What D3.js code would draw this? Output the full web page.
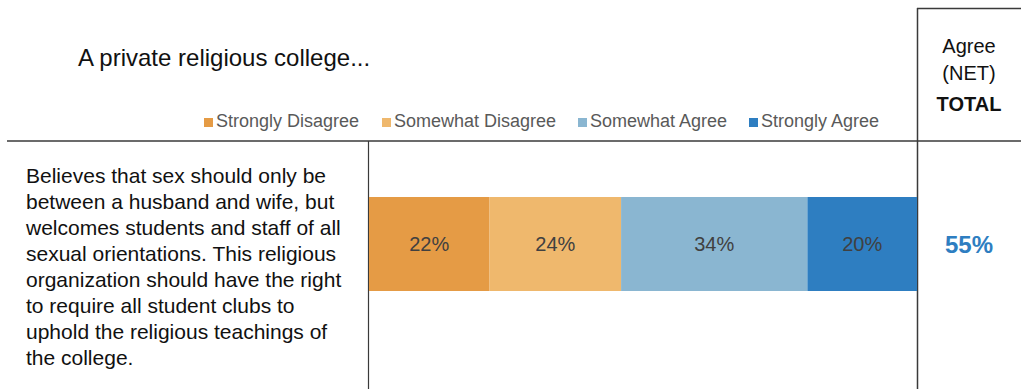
<!DOCTYPE html>
<html>
<head>
<meta charset="utf-8">
<script src="https://cdn.jsdelivr.net/npm/d3@7"></script>
<style>
  html, body { margin: 0; padding: 0; background: #fff; }
  svg { display: block; font-family: "Liberation Sans", Arial, Helvetica, sans-serif; }
</style>
</head>
<body>
<svg id="chart" width="1021" height="389"></svg>
<script>
// Survey item and responses
const title = "A private religious college...";
const statementLines = [
  "Believes that sex should only be",
  "between a husband and wife, but",
  "welcomes students and staff of all",
  "sexual orientations. This religious",
  "organization should have the right",
  "to require all student clubs to",
  "uphold the religious teachings of",
  "the college."
];
const categories = ["Strongly Disagree", "Somewhat Disagree", "Somewhat Agree", "Strongly Agree"];
const values = [22, 24, 34, 20];
const colors = ["#e59b45", "#efb86d", "#8ab6d1", "#2e7ec1"];
const netLabelLines = ["Agree", "(NET)"];
const totalHeader = "TOTAL";
const netAgree = 55;

const svg = d3.select("#chart");

// Scales
const x = d3.scaleLinear().domain([0, d3.sum(values)]).range([369, 917]);
const y = d3.scaleBand().domain(["row"]).range([150, 338]).paddingInner(0).paddingOuter(0.5);
const color = d3.scaleOrdinal().domain(categories).range(colors);

// Stacked segments
let acc = 0;
const segs = values.map((v, i) => {
  const s = { key: categories[i], value: v, x0: acc, x1: acc + v };
  acc += v;
  return s;
});

// Frame lines
const lineColor = "#3a3a3a";
svg.append("line").attr("x1", 7).attr("x2", 1021).attr("y1", 141).attr("y2", 141)
  .attr("stroke", lineColor).attr("stroke-width", 1.5);
svg.append("line").attr("x1", 368.5).attr("x2", 368.5).attr("y1", 141).attr("y2", 389)
  .attr("stroke", lineColor).attr("stroke-width", 1.2);
svg.append("line").attr("x1", 917.5).attr("x2", 917.5).attr("y1", 8).attr("y2", 389)
  .attr("stroke", lineColor).attr("stroke-width", 1.5);
svg.append("line").attr("x1", 917).attr("x2", 1021).attr("y1", 8.5).attr("y2", 8.5)
  .attr("stroke", lineColor).attr("stroke-width", 1.5);

// Title
svg.append("text").attr("x", 78).attr("y", 66)
  .attr("font-size", 24).attr("fill", "#111").text(title);

// Legend
const legendX = [204, 382, 578, 749];
const legend = svg.append("g").selectAll("g").data(categories).join("g")
  .attr("transform", (d, i) => `translate(${legendX[i]},117)`);
legend.append("rect").attr("x", 0).attr("y", 1).attr("width", 9).attr("height", 9)
  .attr("fill", d => color(d));
legend.append("text").attr("x", 12).attr("y", 10)
  .attr("font-size", 18).attr("fill", "#595959").text(d => d);

// Right column header
svg.append("g").selectAll("text").data(netLabelLines).join("text")
  .attr("x", 969).attr("y", (d, i) => 53 + i * 27)
  .attr("text-anchor", "middle").attr("font-size", 20).attr("fill", "#111").text(d => d);
svg.append("text").attr("x", 969).attr("y", 111)
  .attr("text-anchor", "middle").attr("font-size", 20).attr("font-weight", "bold")
  .attr("fill", "#111").text(totalHeader);

// Statement text
svg.append("g").selectAll("text").data(statementLines).join("text")
  .attr("x", 26).attr("y", (d, i) => 183 + i * 26)
  .attr("font-size", 21).attr("fill", "#111").text(d => d);

// Bars
const bars = svg.append("g");
bars.selectAll("rect").data(segs).join("rect")
  .attr("x", d => x(d.x0)).attr("width", d => x(d.x1) - x(d.x0))
  .attr("y", y("row")).attr("height", y.bandwidth())
  .attr("fill", d => color(d.key));
bars.selectAll("text").data(segs).join("text")
  .attr("x", d => (x(d.x0) + x(d.x1)) / 2)
  .attr("y", y("row") + y.bandwidth() / 2)
  .attr("dy", "0.36em").attr("text-anchor", "middle")
  .attr("font-size", 20).attr("fill", "#404040")
  .text(d => d.value + "%");

// Net agree total
svg.append("text").attr("x", 969).attr("y", y("row") + y.bandwidth() / 2)
  .attr("dy", "0.36em").attr("text-anchor", "middle")
  .attr("font-size", 24).attr("font-weight", "bold").attr("fill", "#2e7ec1")
  .text(netAgree + "%");
</script>
</body>
</html>
